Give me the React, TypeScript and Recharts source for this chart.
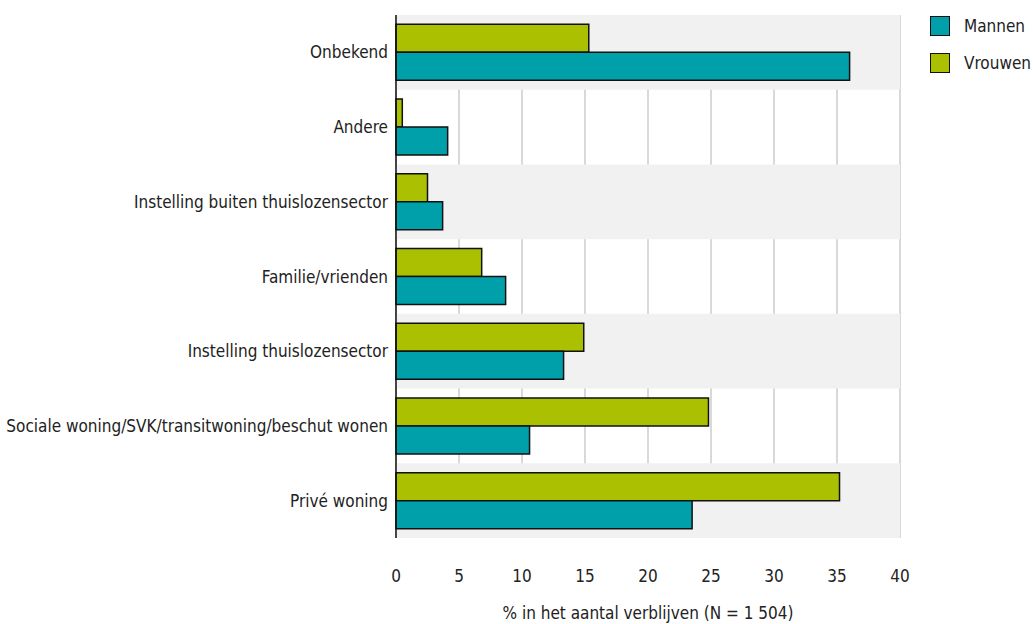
import React from "react";
import {
  BarChart,
  Bar,
  XAxis,
  YAxis,
  CartesianGrid,
  ReferenceArea,
} from "recharts";

const categories = [
  "Onbekend",
  "Andere",
  "Instelling buiten thuislozensector",
  "Familie/vrienden",
  "Instelling thuislozensector",
  "Sociale woning/SVK/transitwoning/beschut wonen",
  "Privé woning",
];
const vrouwen = [15.3, 0.5, 2.5, 6.8, 14.9, 24.8, 35.2];
const mannen = [36.0, 4.1, 3.7, 8.7, 13.3, 10.6, 23.5];
const xTicks = [0, 5, 10, 15, 20, 25, 30, 35, 40];
const shaded = [0, 2, 4, 6];

const FONT = "'DejaVu Sans Condensed', 'Liberation Sans Narrow', sans-serif";
const TEAL = "#00a0ab";
const GREEN = "#abc000";

const data = categories.map((name, i) => ({
  name,
  Vrouwen: vrouwen[i],
  Mannen: mannen[i],
}));

const legendItems = [
  { label: "Mannen", color: TEAL },
  { label: "Vrouwen", color: GREEN },
];

const LegendBox = () => (
  <div
    style={{
      position: "absolute",
      left: 930,
      top: 7,
      fontFamily: FONT,
      fontSize: 17,
      color: "#222",
    }}
  >
    {legendItems.map((it) => (
      <div
        key={it.label}
        style={{ display: "flex", alignItems: "center", height: 37 }}
      >
        <div
          style={{
            width: 18,
            height: 18,
            background: it.color,
            border: "1.5px solid #111",
            marginRight: 14,
          }}
        />
        <span>{it.label}</span>
      </div>
    ))}
  </div>
);

export default function App() {
  return (
    <div style={{ position: "absolute", left: 0, top: 0, width: 1033, height: 624 }}>
      <BarChart
        width={1033}
        height={624}
        data={data}
        layout="vertical"
        margin={{ top: 15, right: 133, bottom: 0, left: 0 }}
        barCategoryGap="12.5%"
        barGap={0}
      >
        {shaded.map((i) => (
          <ReferenceArea
            key={i}
            y1={categories[i]}
            y2={categories[i]}
            fill="#f1f1f1"
            fillOpacity={1}
            stroke="none"
          />
        ))}
        <CartesianGrid
          horizontal={false}
          stroke="#cccccc"
          strokeWidth={1.5}
        />
        <XAxis
          type="number"
          domain={[0, 40]}
          ticks={xTicks}
          axisLine={false}
          tickLine={false}
          tickMargin={26}
          height={86}
          tick={{ fontFamily: FONT, fontSize: 17, fill: "#222" }}
          label={{
            value: "% in het aantal verblijven (N = 1 504)",
            position: "insideBottom",
            offset: 5,
            style: { fontFamily: FONT, fontSize: 17, fill: "#222" },
          }}
        />
        <YAxis
          type="category"
          dataKey="name"
          width={396}
          tickLine={false}
          axisLine={{ stroke: "#111", strokeWidth: 1.5 }}
          interval={0}
          tick={{ fontFamily: FONT, fontSize: 17, fill: "#222" }}
        />
        <Bar
          dataKey="Vrouwen"
          fill={GREEN}
          stroke="#111"
          strokeWidth={1.5}
          isAnimationActive={false}
        />
        <Bar
          dataKey="Mannen"
          fill={TEAL}
          stroke="#111"
          strokeWidth={1.5}
          isAnimationActive={false}
        />
      </BarChart>
      <LegendBox />
    </div>
  );
}
